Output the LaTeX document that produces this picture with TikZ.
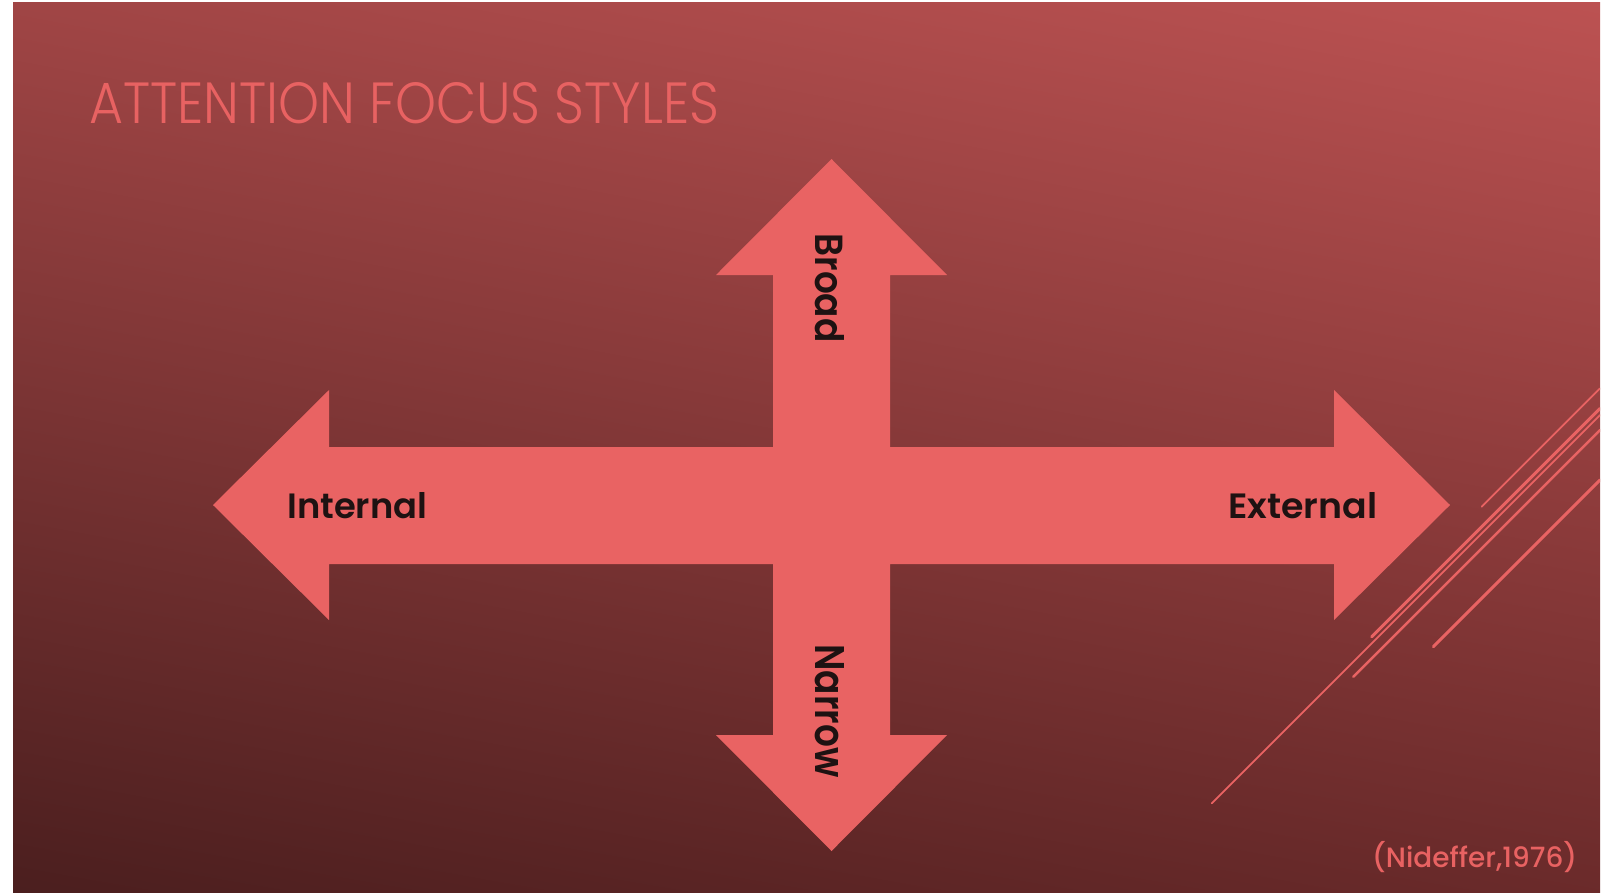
\documentclass[tikz,border=0pt]{standalone}
\usepackage{fontspec}
\usepackage{graphicx}
\usetikzlibrary{shadings}
\setmainfont{Poppins}
\newfontfamily\poplight{Poppins Light}
\newfontfamily\popsemi{Poppins SemiBold}
\newfontfamily\popmed{Poppins Medium}
\definecolor{arrowred}{HTML}{E96363}
\definecolor{titlered}{HTML}{E86262}
\definecolor{labelink}{HTML}{1E1212}
\definecolor{bgUL}{HTML}{A04545}
\definecolor{bgUR}{HTML}{BC5252}
\definecolor{bgLL}{HTML}{4A1E1E}
\definecolor{bgLR}{HTML}{6A2A2A}
\tikzset{
  lbl/.style={inner sep=0pt, text=labelink, font=\popsemi},
  deco/.style={draw=arrowred, line cap=round},
}
\begin{document}
\begin{tikzpicture}[x=1pt,y=-1pt]
\useasboundingbox (0,0) rectangle (1611,892);
\fill[white] (0,0) rectangle (1611,900);
\shade[upper left=bgUL, upper right=bgUR, lower left=bgLL, lower right=bgLR] (13,2) rectangle (1600,900);

% title
\node[inner sep=0pt, anchor=base west, text=titlered, font=\poplight] (title) at (89,123)
  {\resizebox{630pt}{41pt}{ATTENTION FOCUS STYLES}};

% four-way arrow
\fill[arrowred] (831.5,159) -- (947,275) -- (890,275) -- (890,447) -- (1334,447) -- (1334,390)
  -- (1450,505) -- (1334,620) -- (1334,564) -- (890,564) -- (890,735) -- (947,735)
  -- (831.5,851) -- (716,735) -- (773,735) -- (773,564) -- (329,564) -- (329,620)
  -- (213,505) -- (329,390) -- (329,447) -- (773,447) -- (773,275) -- (716,275) -- cycle;

% labels
\node[lbl, anchor=base west] (internal) at (287,518) {\resizebox{140pt}{26pt}{Internal}};
\node[lbl, anchor=base west] (external) at (1228,518) {\resizebox{149pt}{26pt}{External}};
\node[lbl, rotate=-90] (broad) at (830,288) {\resizebox{109pt}{29pt}{Broad}};
\node[lbl, rotate=-90] (narrow) at (830,711) {\resizebox{133pt}{29pt}{Narrow}};

% citation
\node[inner sep=0pt, anchor=base west, text=titlered, font=\popmed] (cite) at (1372,867)
  {\resizebox{205pt}{!}{(Nideffer,1976)}};

% decorative diagonal lines
\coordinate (a1) at (1481.7,506.7); \coordinate (a2) at (1600,388.4);
\coordinate (b1) at (1371.7,636.7); \coordinate (b2) at (1600,408.4);
\coordinate (e1) at (1211.7,803.3); \coordinate (e2) at (1600,415);
\coordinate (c1) at (1353.3,676.7); \coordinate (c2) at (1600,430);
\coordinate (d1) at (1433.3,646.7); \coordinate (d2) at (1600,480);
\begin{scope}
\clip (13,2) rectangle (1600,900);
\draw[deco, line width=1.8pt] (a1) -- (a2);
\draw[deco, line width=3pt] (b1) -- (b2);
\draw[deco, line width=1.8pt] (e1) -- (e2);
\draw[deco, line width=2.5pt] (c1) -- (c2);
\draw[deco, line width=3pt] (d1) -- (d2);
\end{scope}
\end{tikzpicture}
\end{document}
